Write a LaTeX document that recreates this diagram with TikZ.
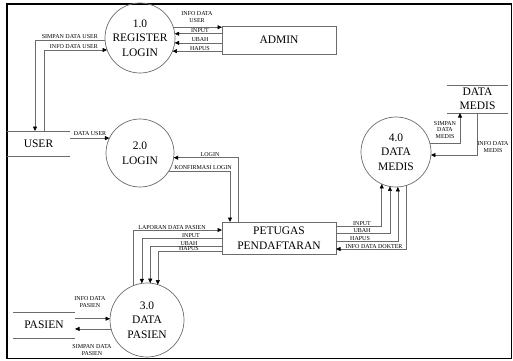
\documentclass[tikz,border=0pt]{standalone}
\usepackage{fontspec}
\setmainfont{Liberation Serif}
\usetikzlibrary{arrows.meta}
\definecolor{ln}{gray}{0.42}
\begin{document}
\begin{tikzpicture}[x=1pt,y=-1pt,
  proc/.style={circle, draw=ln, line width=0.7pt, minimum size=#1, inner sep=0pt, outer sep=0pt, align=center, font=\fontsize{11.5}{14.5}\selectfont},
  ent/.style={rectangle, draw=ln, line width=0.7pt, inner sep=0pt, outer sep=0pt, align=center, font=\fontsize{11.5}{15}\selectfont},
  store/.style={rectangle, inner sep=0pt, outer sep=0pt, align=center, font=\fontsize{11.5}{13.5}\selectfont},
  sline/.style={draw=ln, line width=0.7pt},
  flow/.style={draw=ln, line width=0.6pt, -{Triangle[length=4.5pt,width=4pt,color=black]}},
  lbl/.style={font=\fontsize{6}{6.5}\selectfont, inner sep=0pt, align=center}]
\useasboundingbox (0,0) rectangle (513,360);
\draw[line width=1.6pt] (7,4) rectangle (511.5,358.5);

% processes
\node[proc=70pt] (c1) at (140,38) {1.0\\REGISTER\\LOGIN};
\node[proc=68pt] (c2) at (140,153) {2.0\\LOGIN};
\node[proc=74pt] (c3) at (147,320) {3.0\\DATA\\PASIEN};
\node[proc=70pt] (c4) at (396,152) {4.0\\DATA\\MEDIS};

% entities
\node[ent, minimum width=114pt, minimum height=28pt] (admin) at (279,40) {ADMIN};
\node[ent, minimum width=114pt, minimum height=32pt] (petugas) at (279,238) {PETUGAS\\PENDAFTARAN};

% stores / terminators drawn as open boxes
\node[store, minimum width=63pt, minimum height=25pt] (user) at (38.5,143.5) {USER};
\node[store, minimum width=62pt, minimum height=26pt] (pasien) at (44,325) {PASIEN};
\node[store, minimum width=61pt, minimum height=28pt] (datamedis) at (477.5,99) {DATA\\MEDIS};
\draw[sline] (user.north west) -- (user.north east) (user.south west) -- (user.south east);
\draw[sline] (pasien.north west) -- (pasien.north east) (pasien.south west) -- (pasien.south east);
\draw[sline] (datamedis.north west) -- (datamedis.north east) (datamedis.south west) -- (datamedis.south east);

% 1.0 <-> ADMIN
\draw[flow] (c1.18) -- (c1.18 -| admin.west);
\draw[flow] (c1.7 -| admin.west) -- (c1.7);
\draw[flow] (c1.352 -| admin.west) -- (c1.352);
\draw[flow] (c1.338 -| admin.west) -- (c1.338);
\node[lbl] (l1) at (197,17) {INFO DATA\\USER};
\node[lbl] (l2) at (200,30.8) {INPUT};
\node[lbl] (l3) at (200,40) {UBAH};
\node[lbl] (l4) at (200,48.3) {HAPUS};

% 1.0 <-> USER
\draw[flow] (c1.183) -| ([xshift=-3.5pt]user.north);
\draw[flow] ([xshift=5.5pt]user.north) |- (c1.200);
\node[lbl, anchor=east] (l5) at (98,36.3) {SIMPAN DATA USER};
\node[lbl, anchor=east] (l6) at (98,46.3) {INFO DATA USER};

% USER -> 2.0
\draw[flow] (c2.154 -| user.east) -- (c2.154);
\node[lbl] (l7) at (90,133.3) {DATA USER};

% 2.0 <-> PETUGAS
\draw[flow] ([xshift=-41pt]petugas.north) |- (c2.352);
\draw[flow] (c2.328) -| ([xshift=-49pt]petugas.north);
\node[lbl] (l8) at (210,154.3) {LOGIN};
\node[lbl] (l9) at (203,167.3) {KONFIRMASI LOGIN};

% PETUGAS <-> 3.0
\draw[flow] (c3.112) |- ([yshift=8pt]petugas.west);
\draw[flow] (petugas.west) -| (c3.98);
\draw[flow] ([yshift=-8pt]petugas.west) -| (c3.85);
\draw[flow] ([yshift=-13pt]petugas.west) -| (c3.73);
\node[lbl] (l10) at (172,227.3) {LAPORAN DATA PASIEN};
\node[lbl] (l11) at (191,235.3) {INPUT};
\node[lbl] (l12) at (189,243.3) {UBAH};
\node[lbl] (l13) at (189,248.6) {HAPUS};

% PETUGAS <-> 4.0
\draw[flow] ([yshift=12pt]petugas.east) -| (c4.246);
\draw[flow] ([yshift=5pt]petugas.east) -| (c4.260);
\draw[flow] ([yshift=-3pt]petugas.east) -| (c4.273);
\draw[flow] (c4.287) |- ([yshift=-11pt]petugas.east);
\node[lbl] (l14) at (362,223.3) {INPUT};
\node[lbl] (l15) at (362,230.6) {UBAH};
\node[lbl] (l16) at (360,238.3) {HAPUS};
\node[lbl] (l17) at (374,246.3) {INFO DATA DOKTER};

% 4.0 <-> DATA MEDIS
\draw[flow] (c4.15) -| ([xshift=-17.5pt]datamedis.south);
\draw[flow] (datamedis.south) |- (c4.355);
\node[lbl] (l18) at (445,130) {SIMPAN\\DATA\\MEDIS};
\node[lbl] (l19) at (493,147) {INFO DATA\\MEDIS};

% PASIEN <-> 3.0
\draw[flow] (c3.178 -| pasien.east) -- (c3.178);
\draw[flow] (c3.194) -- (c3.194 -| pasien.east);
\node[lbl] (l20) at (90,302) {INFO DATA\\PASIEN};
\node[lbl] (l21) at (92,350) {SIMPAN DATA\\PASIEN};
\end{tikzpicture}
\end{document}
